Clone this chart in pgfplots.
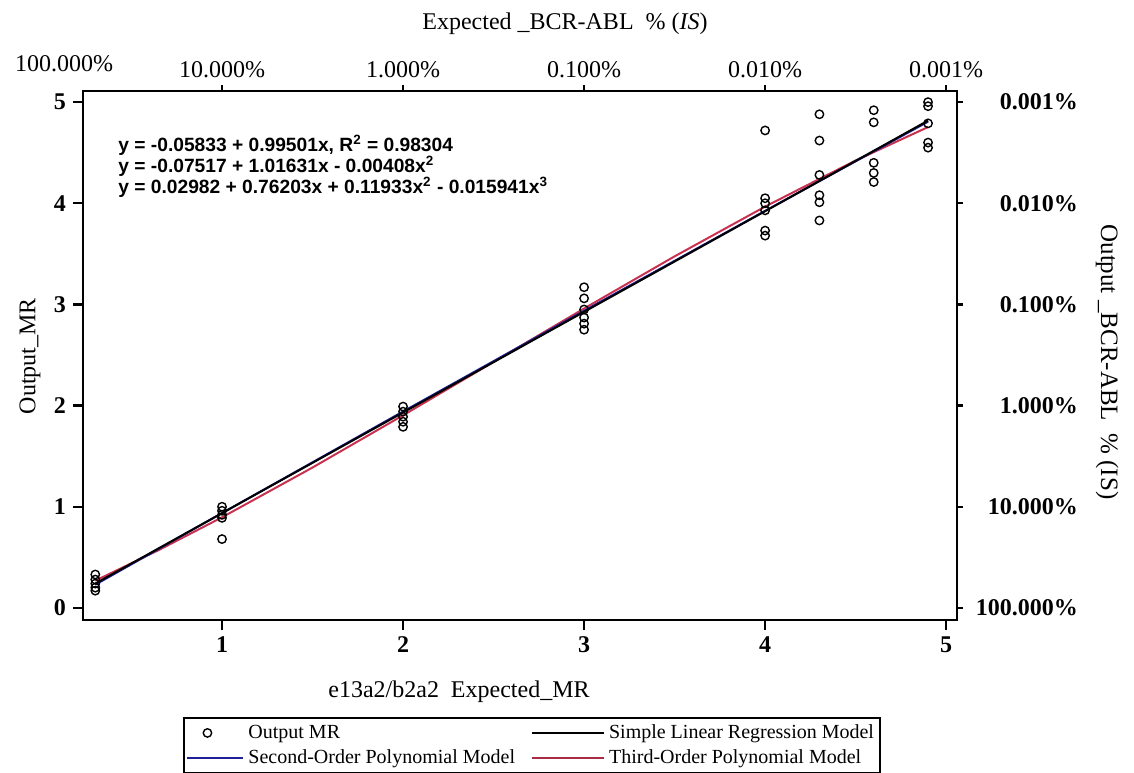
\documentclass[border=0pt]{standalone}
\usepackage{fontspec}
\setmainfont{Liberation Serif}
\newfontfamily\eqfont{Liberation Sans}
\usepackage{pgfplots}
\usepackage{pgfplotstable}
\pgfplotsset{compat=1.18}
\definecolor{fitblue}{RGB}{30,30,150}
\definecolor{fitred}{RGB}{200,50,80}
\pgfplotsset{
  legline/.style={legend image code/.code={\draw[##1] (0pt,0pt) -- (#1,0pt);}},
  legmark/.style={legend image code/.code={\draw[##1] plot coordinates {(10pt,0pt)};}},
}

\pgfplotstableread{
x y
0.3 0.33
0.3 0.28
0.3 0.24
0.3 0.20
0.3 0.17
1 1.00
1 0.96
1 0.92
1 0.89
1 0.68
2 1.99
2 1.94
2 1.89
2 1.84
2 1.79
3 3.17
3 3.06
3 2.95
3 2.87
3 2.81
3 2.75
4 4.72
4 4.05
4 4.00
4 3.93
4 3.73
4 3.68
4.3 4.88
4.3 4.62
4.3 4.28
4.3 4.08
4.3 4.01
4.3 3.83
4.6 4.92
4.6 4.80
4.6 4.40
4.6 4.30
4.6 4.21
4.9 5.00
4.9 4.96
4.9 4.79
4.9 4.60
4.9 4.55
}\pointdata

\begin{document}
\begin{tikzpicture}
\path[use as bounding box] (-41.5pt,-76pt) rectangle (525.5pt,310pt);
\begin{axis}[
  at={(0,0)}, anchor=south west,
  scale only axis, width=437pt, height=264.5pt,
  xmin=0.232, xmax=5.06, ymin=-0.12, ymax=5.11,
  xtick={1,2,3,4,5}, ytick={0,1,2,3,4,5},
  xtick pos=bottom, ytick pos=left,
  tick align=outside, major tick length=5pt,
  axis line style={line width=1.2pt},
  tick style={line width=1.2pt, black},
  /pgf/number format/assume math mode=true,
  ticklabel style={font=\bfseries\fontsize{12}{12}\selectfont},
  legend columns=2,
  legend cell align=left,
  legend style={at={(0.514,-0.237)}, anchor=center, draw=black, line width=1pt,
    font=\fontsize{10}{10}\selectfont,
    /tikz/every even column/.append style={column sep=6pt},
    row sep=0pt, inner xsep=1pt, inner ysep=1.5pt},
]
\addplot[fitred, line width=1pt, forget plot] coordinates {
(0.3,0.26874)(0.65,0.57118)(1,0.89524)(1.5,1.38756)(2,1.90367)(2.5,2.43163)(3,2.95947)(3.5,3.47525)(4,3.96700)(4.5,4.42276)(4.9,4.75340)};
\addplot[fitblue, line width=1pt, forget plot] coordinates {
(0.3,0.22936)(1,0.93706)(2,1.94113)(3,2.93704)(4,3.92479)(4.9,4.80679)};
\addplot[black, line width=1pt, forget plot] coordinates {(0.3,0.24017)(4.9,4.81722)};
\addplot[only marks, mark=o, mark size=2.1pt, black, line width=0.7pt, legmark] table {\pointdata};
\addlegendentry{Output MR}
\addlegendimage{black, line width=1pt, legline=36pt}
\addlegendentry{Simple Linear Regression Model}
\addlegendimage{fitblue, line width=1pt, legline=28pt}
\addlegendentry{Second-Order Polynomial Model}
\addlegendimage{fitred!85!black, line width=1pt, legline=36pt}
\addlegendentry{Third-Order Polynomial Model}
\end{axis}
\begin{axis}[
  at={(0,0)}, anchor=south west,
  scale only axis, width=437pt, height=264.5pt,
  xmin=0.232, xmax=5.06, ymin=-0.12, ymax=5.11,
  axis x line*=top, axis y line*=right,
  axis line style={line width=1.2pt, -},
  xtick={1,2,3,4,5}, ytick={0,1,2,3,4,5},
  xticklabels={10.000\%,1.000\%,0.100\%,0.010\%,0.001\%},
  yticklabels={100.000\%,10.000\%,1.000\%,0.100\%,0.010\%,0.001\%},
  tick align=outside, major tick length=3pt,
  tick style={line width=1.2pt, black},
  xticklabel style={font=\fontsize{12}{12}\selectfont},
  yticklabel style={font=\bfseries\fontsize{12}{12}\selectfont, anchor=east, xshift=61pt},
]
\end{axis}
\node[font=\fontsize{12}{12}\selectfont] at (241pt,298pt) {Expected \_BCR-ABL\ \ \% (\textit{IS})};
\node[font=\fontsize{12}{12}\selectfont] at (-9.5pt,278pt) {100.000\%};
\node[font=\fontsize{12}{12}\selectfont, rotate=90] at (-26.5pt,132pt) {Output\_MR};
\node[font=\fontsize{12}{12}\selectfont] at (188pt,-36pt) {e13a2/b2a2\ \ Expected\_MR};
\node[font=\fontsize{12.5}{12.5}\selectfont, rotate=-90] at (512pt,129pt) {Output \_BCR-ABL\ \ \% (IS)};
\node[font=\eqfont\bfseries\fontsize{9.6}{9.6}\selectfont, anchor=base west, inner sep=0pt] at (17.5pt,234pt) {y = -0.05833 + 0.99501x, R\textsuperscript{2} = 0.98304};
\node[font=\eqfont\bfseries\fontsize{9.6}{9.6}\selectfont, anchor=base west, inner sep=0pt] at (17.5pt,223.6pt) {y = -0.07517 + 1.01631x - 0.00408x\textsuperscript{2}};
\node[font=\eqfont\bfseries\fontsize{9.6}{9.6}\selectfont, anchor=base west, inner sep=0pt] at (17.5pt,213.2pt) {y = 0.02982 + 0.76203x + 0.11933x\textsuperscript{2} - 0.015941x\textsuperscript{3}};
\end{tikzpicture}
\end{document}
